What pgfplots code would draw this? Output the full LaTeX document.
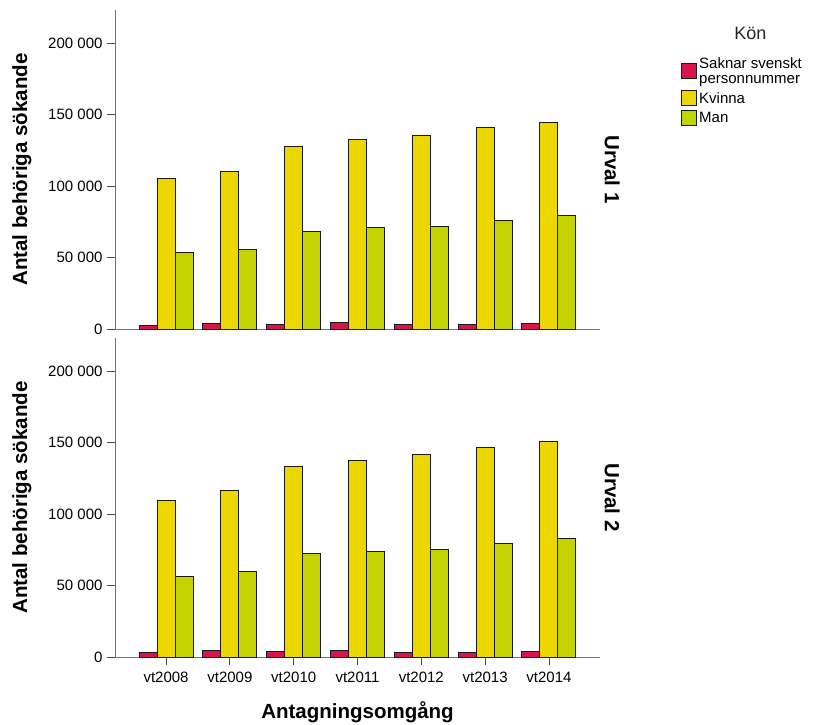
\documentclass[border=0pt]{standalone}
\usepackage{fontspec}
\setmainfont{Liberation Sans}
\usepackage{pgfplots}
\pgfplotsset{compat=1.18}
\definecolor{cred}{RGB}{214,22,72}
\definecolor{cyel}{RGB}{236,216,0}
\definecolor{cgrn}{RGB}{196,212,0}
\pgfplotsset{
  panel/.style={
    scale only axis, width=485pt, height=319pt,
    xmin=-0.8, xmax=6.8, ymin=0, ymax=223000,
    ybar=0pt, bar width=18pt,
    clip=false,
    axis x line*=bottom, axis y line*=left,
    axis line style={-, draw=black!55, line width=0.8pt},
    ytick={0,50000,100000,150000,200000},
    yticklabels={0,50 000,100 000,150 000,200 000},
    scaled y ticks=false,
    yticklabel style={font=\fontsize{15}{17}\selectfont, xshift=-1pt},
    xticklabel style={font=\fontsize{15}{17}\selectfont, yshift=-3pt},
    tick align=outside, major tick length=8pt,
    tick style={draw=black!70, line width=0.8pt},
    ylabel={Antal behöriga sökande},
    ylabel style={at={(axis description cs:-0.192,0.5)}, anchor=center, font=\fontsize{20.5}{22}\selectfont\bfseries},
    every axis plot/.append style={draw=black!90, line width=1pt},
  }
}
\begin{document}
\begin{tikzpicture}
\path[use as bounding box] (0pt,0pt) rectangle (814pt,-724pt);
\begin{axis}[panel, at={(115pt,-329pt)}, anchor=south west,
  xtick=\empty,
  legend style={at={(axis description cs:1.167,0.858)}, anchor=north west, draw=none, fill=none,
    inner sep=0pt, font=\fontsize{15}{15.5}\selectfont, row sep=3pt,
    cells={align=left}},
  legend cell align=left,
  legend image code/.code={\draw[#1] (0pt,-7pt) rectangle (15pt,8pt);},
]
\addplot[fill=cred] coordinates {(0,2600) (1,4000) (2,3500) (3,4700) (4,3000) (5,3000) (6,4000)};
\addplot[fill=cyel] coordinates {(0,104900) (1,110300) (2,127300) (3,132400) (4,135600) (5,141200) (6,144700)};
\addplot[fill=cgrn] coordinates {(0,53800) (1,55700) (2,68300) (3,70800) (4,72000) (5,76000) (6,79000)};
\addlegendentry{Saknar svenskt\\personnummer}
\addlegendentry{Kvinna}
\addlegendentry{Man}
\node[font=\fontsize{18}{20}\selectfont, text=black!85] at (axis description cs:1.31,0.928) {Kön};
\node[rotate=-90, font=\fontsize{20.5}{22}\selectfont\bfseries] at (axis description cs:1.025,0.5) {Urval 1};
\end{axis}
\begin{axis}[panel, at={(115pt,-657pt)}, anchor=south west,
  xtick={0,1,2,3,4,5,6},
  xticklabels={vt2008,vt2009,vt2010,vt2011,vt2012,vt2013,vt2014},
  xlabel={Antagningsomgång},
  xlabel style={at={(axis description cs:0.5,-0.172)}, anchor=center, font=\fontsize{20.5}{22}\selectfont\bfseries},
]
\addplot[fill=cred] coordinates {(0,3300) (1,4400) (2,4000) (3,4900) (4,3300) (5,3300) (6,4200)};
\addplot[fill=cyel] coordinates {(0,109300) (1,116100) (2,133300) (3,137500) (4,141300) (5,146600) (6,150800)};
\addplot[fill=cgrn] coordinates {(0,56600) (1,59900) (2,72200) (3,74100) (4,75500) (5,79200) (6,82700)};
\node[rotate=-90, font=\fontsize{20.5}{22}\selectfont\bfseries] at (axis description cs:1.025,0.5) {Urval 2};
\end{axis}
\end{tikzpicture}
\end{document}
